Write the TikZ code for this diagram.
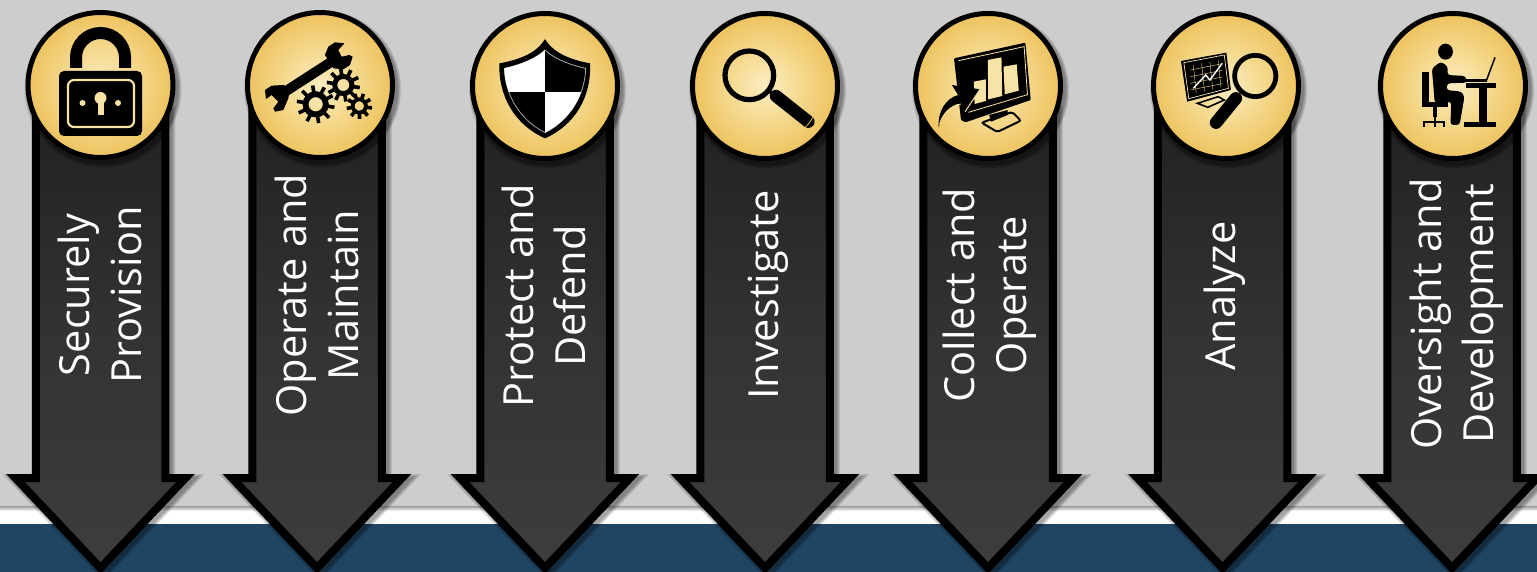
\documentclass[tikz,border=0pt]{standalone}
\usepackage{fontspec}
\setmainfont{Open Sans}
\definecolor{goldA}{HTML}{FBEDC2}
\definecolor{goldB}{HTML}{F5D88C}
\definecolor{goldC}{HTML}{EABA4C}
\definecolor{cream}{HTML}{F8E3A6}
\definecolor{navy}{HTML}{1F4562}
\definecolor{bggray}{HTML}{CDCDCD}
\pgfdeclareradialshading{goldball}{\pgfpoint{0bp}{0bp}}{color(0bp)=(goldA); color(13bp)=(goldB); color(30bp)=(goldC); color(50bp)=(goldC)}
\tikzset{
  bandtop/.style={bottom color=white,top color=gray!70},
  goldcirc/.style={circle,draw=black,line width=5pt,shading=goldball,minimum size=145pt,inner sep=0pt,outer sep=0pt},
  lbl/.style={text=white,rotate=90,align=center,font=\fontsize{41.5}{52}\selectfont,inner sep=0pt},
  arrowfill/.style={draw=black,line width=8pt,miter limit=10,bottom color=black!76,top color=black!87,middle color=black!80},
  zoomA/.style={shift={(#1,0)},scale=1/3},
  zoomB/.style={shift={(890,0)},xscale=1/2.423,yscale=1/3},
}
\newcommand{\arrowpath}[1]{(#1-64.75,110) -- (#1-64.75,478) -- (#1-85,478) -- (#1,568) -- (#1+85,478) -- (#1+64.75,478) -- (#1+64.75,110) -- cycle}
\newcommand{\catarrow}[1]{%
  \foreach \w in {14,12,10,8}{\draw[black,opacity=.10,line width=\w pt,miter limit=10,shift={(3,3)}] \arrowpath{#1};}
  \path[arrowfill] \arrowpath{#1};
}
\newcommand{\circshadow}[2]{%
  \foreach \w in {157,155,153,151}{\fill[black,opacity=.11,shift={(2.5,4)}] (#1,#2) circle[radius=\w/2];}
}
\newcommand{\gearicon}[5]{% x,y,ring radius,tooth outer,teeth
  \draw[black,line width=.45*#3 pt] (#1,#2) circle[radius=.78*#3];
  \foreach \i in {1,...,#5}{\draw[black,line width=3.6pt,shift={(#1,#2)}] (\i*360/#5+9:#3*.85) -- (\i*360/#5+9:#4);}
}
\begin{document}
\begin{tikzpicture}[x=1pt,y=-1pt]
\useasboundingbox (0,0) rectangle (1537,572);
% background
\fill[bggray] (0,0) rectangle (1537,507);
\fill[white] (0,507) rectangle (1537,524);
\shade[bandtop] (0,506.5) rectangle (1537,511);
\fill[navy] (0,524) rectangle (1537,572);
% arrows
\catarrow{100.5}\catarrow{317}\catarrow{545}\catarrow{765}\catarrow{988}\catarrow{1222.5}\catarrow{1452}
% circles
\circshadow{100.5}{85}\circshadow{320}{85}\circshadow{545}{86}\circshadow{765}{86}\circshadow{988}{86}\circshadow{1226}{86}\circshadow{1453}{86}
\node[goldcirc] (c1) at (100.5,85) {};
\node[goldcirc] (c2) at (320,85) {};
\node[goldcirc] (c3) at (545,86) {};
\node[goldcirc] (c4) at (765,86) {};
\node[goldcirc] (c5) at (988,86) {};
\node[goldcirc] (c6) at (1226,86) {};
\node[goldcirc] (c7) at (1453,86) {};
% labels
\node[lbl] (t1) at (99.5,295) {Securely\\Provision};
\node[lbl] (t2) at (316.5,295) {Operate and\\Maintain};
\node[lbl] (t3) at (543.5,296) {Protect and\\Defend};
\node[lbl] (t4) at (768,295) {Investigate};
\node[lbl] (t5) at (989.5,295) {Collect and\\Operate};
\node[lbl] (t6) at (1225,296) {Analyze};
\node[lbl] (t7) at (1456.5,314) {Oversight and\\Development};
% lock
\draw[black,line width=12pt] (76,68) -- (76,57.5) arc[start angle=180,end angle=360,radius=24.5] -- (125,68);
\fill[black,rounded corners=5pt] (59,71) rectangle (142,136);
\draw[cream,line width=2.2pt,rounded corners=6pt] (68,80) rectangle (134,127);
\fill[cream] (100.5,98) circle[radius=6];
\fill[cream] (97.5,98) rectangle (103.5,115);
\fill[cream] (82.5,103) circle[radius=3];
\fill[cream] (118,103) circle[radius=3];
% wrench and gears
\begin{scope}[zoomA=0]
\draw[black,line width=10pt] (840,285) -- (1010,175);
\fill[black] (975,165) -- (985,140) -- (1005,127) -- (1033,130) -- (1015,150) -- (1025,170) -- (1048,165) -- (1058,170) -- (1050,195) -- (1030,208) -- (1000,205) -- cycle;
\fill[black] (795,270) -- (815,257) -- (850,255) -- (870,265) -- (865,295) -- (850,330) -- (825,335) -- (820,325) -- (835,305) -- (815,285) -- (798,297) -- cycle;
\end{scope}
\gearicon{315.7}{104.3}{13}{19}{10}
\gearicon{343.3}{85}{11}{16.7}{10}
\gearicon{359.3}{106}{8.5}{12.8}{9}
% shield
\begin{scope}[zoomA=440]
\fill[black] (315,117) .. controls (290,160) and (235,180) .. (178,190) .. controls (175,290) and (225,375) .. (315,415) .. controls (405,375) and (455,290) .. (450,190) .. controls (395,180) and (340,160) .. (315,117) -- cycle;
\draw[gray!70,line width=.8pt] (315,150) .. controls (290,175) and (240,195) .. (193,205) .. controls (195,285) and (240,360) .. (315,398) .. controls (390,360) and (435,285) .. (437,205) .. controls (390,195) and (340,175) .. (315,150) -- cycle;
\begin{scope}
\clip (315,150) .. controls (290,175) and (240,195) .. (193,205) .. controls (195,285) and (240,360) .. (315,398) .. controls (390,360) and (435,285) .. (437,205) .. controls (390,195) and (340,175) .. (315,150) -- cycle;
\fill[white] (170,130) rectangle (315,275);
\fill[white] (315,275) rectangle (460,420);
\end{scope}
% magnifier
\draw[black,line width=5.2pt] (928,226) circle[radius=73];
\draw[black,line width=3pt] (985,272) -- (1010,292);
\draw[black,line width=12.5pt,line cap=round] (1008,288) -- (1105,365);
\draw[goldC,line width=.8pt] (1095,382) .. controls (1103,375) and (1112,365) .. (1118,352);
\end{scope}
% monitor, bars, arrow
\begin{scope}[zoomB]
\fill[black,rounded corners=1pt] (155,175) -- (328,128) -- (341,300) -- (183,367) -- (172,360) -- cycle;
\draw[cream,line width=.8pt] (166,182) -- (325,140) -- (333,284) -- (190,337);
\fill[cream] (203,245) -- (232,238) -- (232,303) -- (205,312) -- cycle;
\fill[cream] (237,180) -- (270,172) -- (272,288) -- (238,298) -- cycle;
\fill[cream] (275,200) -- (307,193) -- (312,272) -- (278,283) -- cycle;
\draw[black,line width=2pt,rounded corners=2pt] (222,368) -- (296,336) -- (317,362) -- (260,396) -- cycle;
\fill[black] (240,345) -- (285,330) -- (285,345) -- (245,365) -- cycle;
\fill[black] (118,382) .. controls (115,335) and (135,295) .. (165,285) -- (150,255) -- (218,268) -- (182,335) -- (170,310) .. controls (145,315) and (125,345) .. (118,382) -- cycle;
\draw[cream,line width=.8pt] (120,372) .. controls (128,340) and (145,318) .. (172,312);
\draw[cream,line width=1pt] (182,335) -- (218,268);
\end{scope}
% monitor and magnifier
\begin{scope}[zoomB]
\fill[black] (705,183) -- (815,158) -- (826,270) -- (720,305) -- cycle;
\draw[cream,line width=.7pt] (712,188) -- (810,165) -- (820,265) -- (724,296) -- cycle;
\foreach \i in {0,1,2,3}{\draw[goldB,line width=.4pt] (735+\i*20,195-\i*5) -- (742+\i*20,280-\i*6);}
\foreach \i in {0,1,2,3}{\draw[goldB,line width=.4pt] (728,210+\i*20) -- (805,191+\i*20);}
\draw[white,line width=1.4pt] (735,265) -- (765,225) -- (775,240) -- (805,190);
\draw[black,line width=1.6pt] (745,310) -- (795,290) -- (810,300) -- (770,322) -- cycle;
\draw[black,line width=4.8pt] (885,228) circle[x radius=50,y radius=62];
\draw[black,line width=12.5pt,line cap=round] (838,295) -- (790,368);
\end{scope}
% person at desk
\begin{scope}[zoomB]
\fill[black] (1346,155) circle[x radius=18,y radius=24];
\fill[black,rounded corners=3pt] (1313,205) -- (1335,185) -- (1352,200) -- (1350,225) -- (1395,228) -- (1398,248) -- (1350,250) -- (1348,270) -- (1385,275) -- (1392,290) -- (1380,375) -- (1358,375) -- (1360,305) -- (1320,310) -- cycle;
\fill[black] (1290,215) rectangle (1306,315);
\fill[black] (1288,307) rectangle (1352,320);
\fill[black] (1316,320) rectangle (1326,352);
\draw[black,line width=1.6pt] (1294,380) -- (1294,366) -- (1342,366) -- (1342,380);
\draw[black,line width=1.6pt] (1320,350) -- (1320,380);
\fill[black] (1395,250) rectangle (1468,265);
\fill[black] (1426,265) rectangle (1446,370);
\fill[black] (1390,367) rectangle (1468,381);
\draw[black,line width=1.5pt] (1445,242) -- (1466,172);
\fill[black] (1395,238) rectangle (1447,246);
\end{scope}
\end{tikzpicture}
\end{document}
